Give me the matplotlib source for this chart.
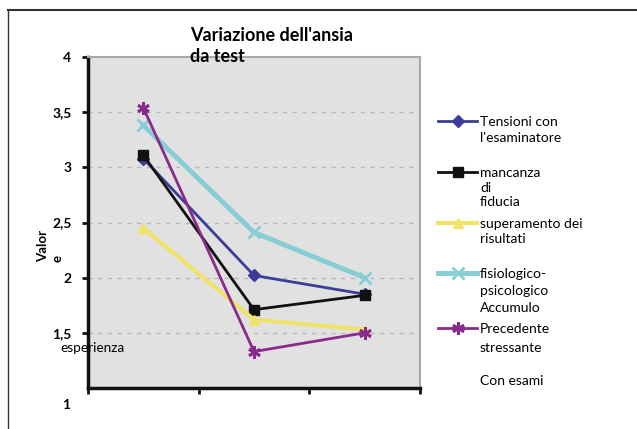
import matplotlib.pyplot as plt
from matplotlib.lines import Line2D

plt.rcParams['font.family'] = ['Lato', 'DejaVu Sans']

# data
x_pos = [0.5, 1.5, 2.5]
tensioni = [3.08, 2.02, 1.85]
mancanza = [3.11, 1.71, 1.84]
superamento = [2.45, 1.62, 1.53]
fisiologico = [3.38, 2.41, 2.00]
precedente = [3.54, 1.33, 1.50]

series = [tensioni, mancanza, superamento, fisiologico, precedente]
labels = ["Tensioni con\nl'esaminatore", "mancanza\ndi\nfiducia",
          "superamento dei\nrisultati", "fisiologico-\npsicologico\nAccumulo",
          "Precedente\nstressante"]
colors = ['#3b3d98', '#111111', '#efe36a', '#86cdd4', '#8a2a8a']
markers = ['D', 's', '^', 'x', (6, 2, 0)]
widths = [2, 2, 3, 3.5, 2]
msizes = [6.5, 6.5, 7, 8, 9]

yticks = [1.5, 2, 2.5, 3, 3.5, 4]
ytick_labels = ['1,5', '2', '2,5', '3', '3,5', '4']

fig = plt.figure(figsize=(6.37, 4.29), dpi=100)
ax = fig.add_axes([88/637, 1-388/429, 332/637, 331/429])
ax.set_facecolor('#e1e1e1')

for s, c, m, w, ms in zip(series, colors, markers, widths, msizes):
    ax.plot(x_pos, s, color=c, marker=m, lw=w, ms=ms,
            mew=2 if m == 'x' or isinstance(m, tuple) else 1, zorder=3)

ax.set_xlim(0, 3)
ax.set_ylim(1, 4)
ax.set_xticks([0, 1, 2, 3])
ax.set_xticklabels([])
ax.set_yticks(yticks)
ax.set_yticklabels(ytick_labels, fontsize=10, fontweight='bold')
ax.tick_params(axis='both', length=4, width=2, color='#111111', pad=8)
ax.annotate('1', (0, 1), xycoords=('axes fraction', 'data'), xytext=(-13, -12),
            textcoords='offset points', ha='right', va='center', fontsize=10, fontweight='bold')
for yv in [1.5, 2, 2.5, 3, 3.5]:
    ax.axhline(yv, color='#b8b8b8', lw=1, ls=(0, (3, 4)), zorder=1)

for side in ['top', 'right']:
    ax.spines[side].set_color('#a8a8a8')
    ax.spines[side].set_linewidth(1.5)
for side in ['left', 'bottom']:
    ax.spines[side].set_color('#111111')
    ax.spines[side].set_linewidth(2.5)

ax.set_ylabel('Valor\ne', fontsize=9.5, fontweight='bold', multialignment='left',
              linespacing=1.3)
ax.yaxis.set_label_coords(-24/332, (388-246)/331)

fig.text(190/637, 1-27/429, "Variazione dell'ansia\nda test", fontsize=13, fontweight='bold',
         va='top', linespacing=1.27)
fig.text(60/637, 1-348/429, 'esperienza', fontsize=9.8, va='center')

# legend drawn by hand
leg_y = [121, 172, 223, 273, 328]
leg_spacing = [1.4, 1.26, 1.3, 1.48, 1.65]
for lab, c, m, w, ms, y, ls in zip(labels, colors, markers, widths, msizes, leg_y, leg_spacing):
    yf = 1 - y/429
    fig.add_artist(Line2D([438/637, 477/637], [yf, yf], color=c, lw=w))
    fig.add_artist(Line2D([457.5/637], [yf], color=c, marker=m, ms=ms, lw=0,
                          mew=2 if m == 'x' or isinstance(m, tuple) else 1))
    fig.text(480/637, yf + 5/429, lab, fontsize=10, va='top', linespacing=ls)
fig.text(480/637, 1-381/429, 'Con esami', fontsize=10, va='center')

# outer frame
fig.add_artist(Line2D([8/637, 8/637], [0, 1-10/429], color='#333333', lw=1))
fig.add_artist(Line2D([8/637, 1], [1-10/429, 1-10/429], color='#333333', lw=1.5))

fig.savefig('out.png', dpi=100)
